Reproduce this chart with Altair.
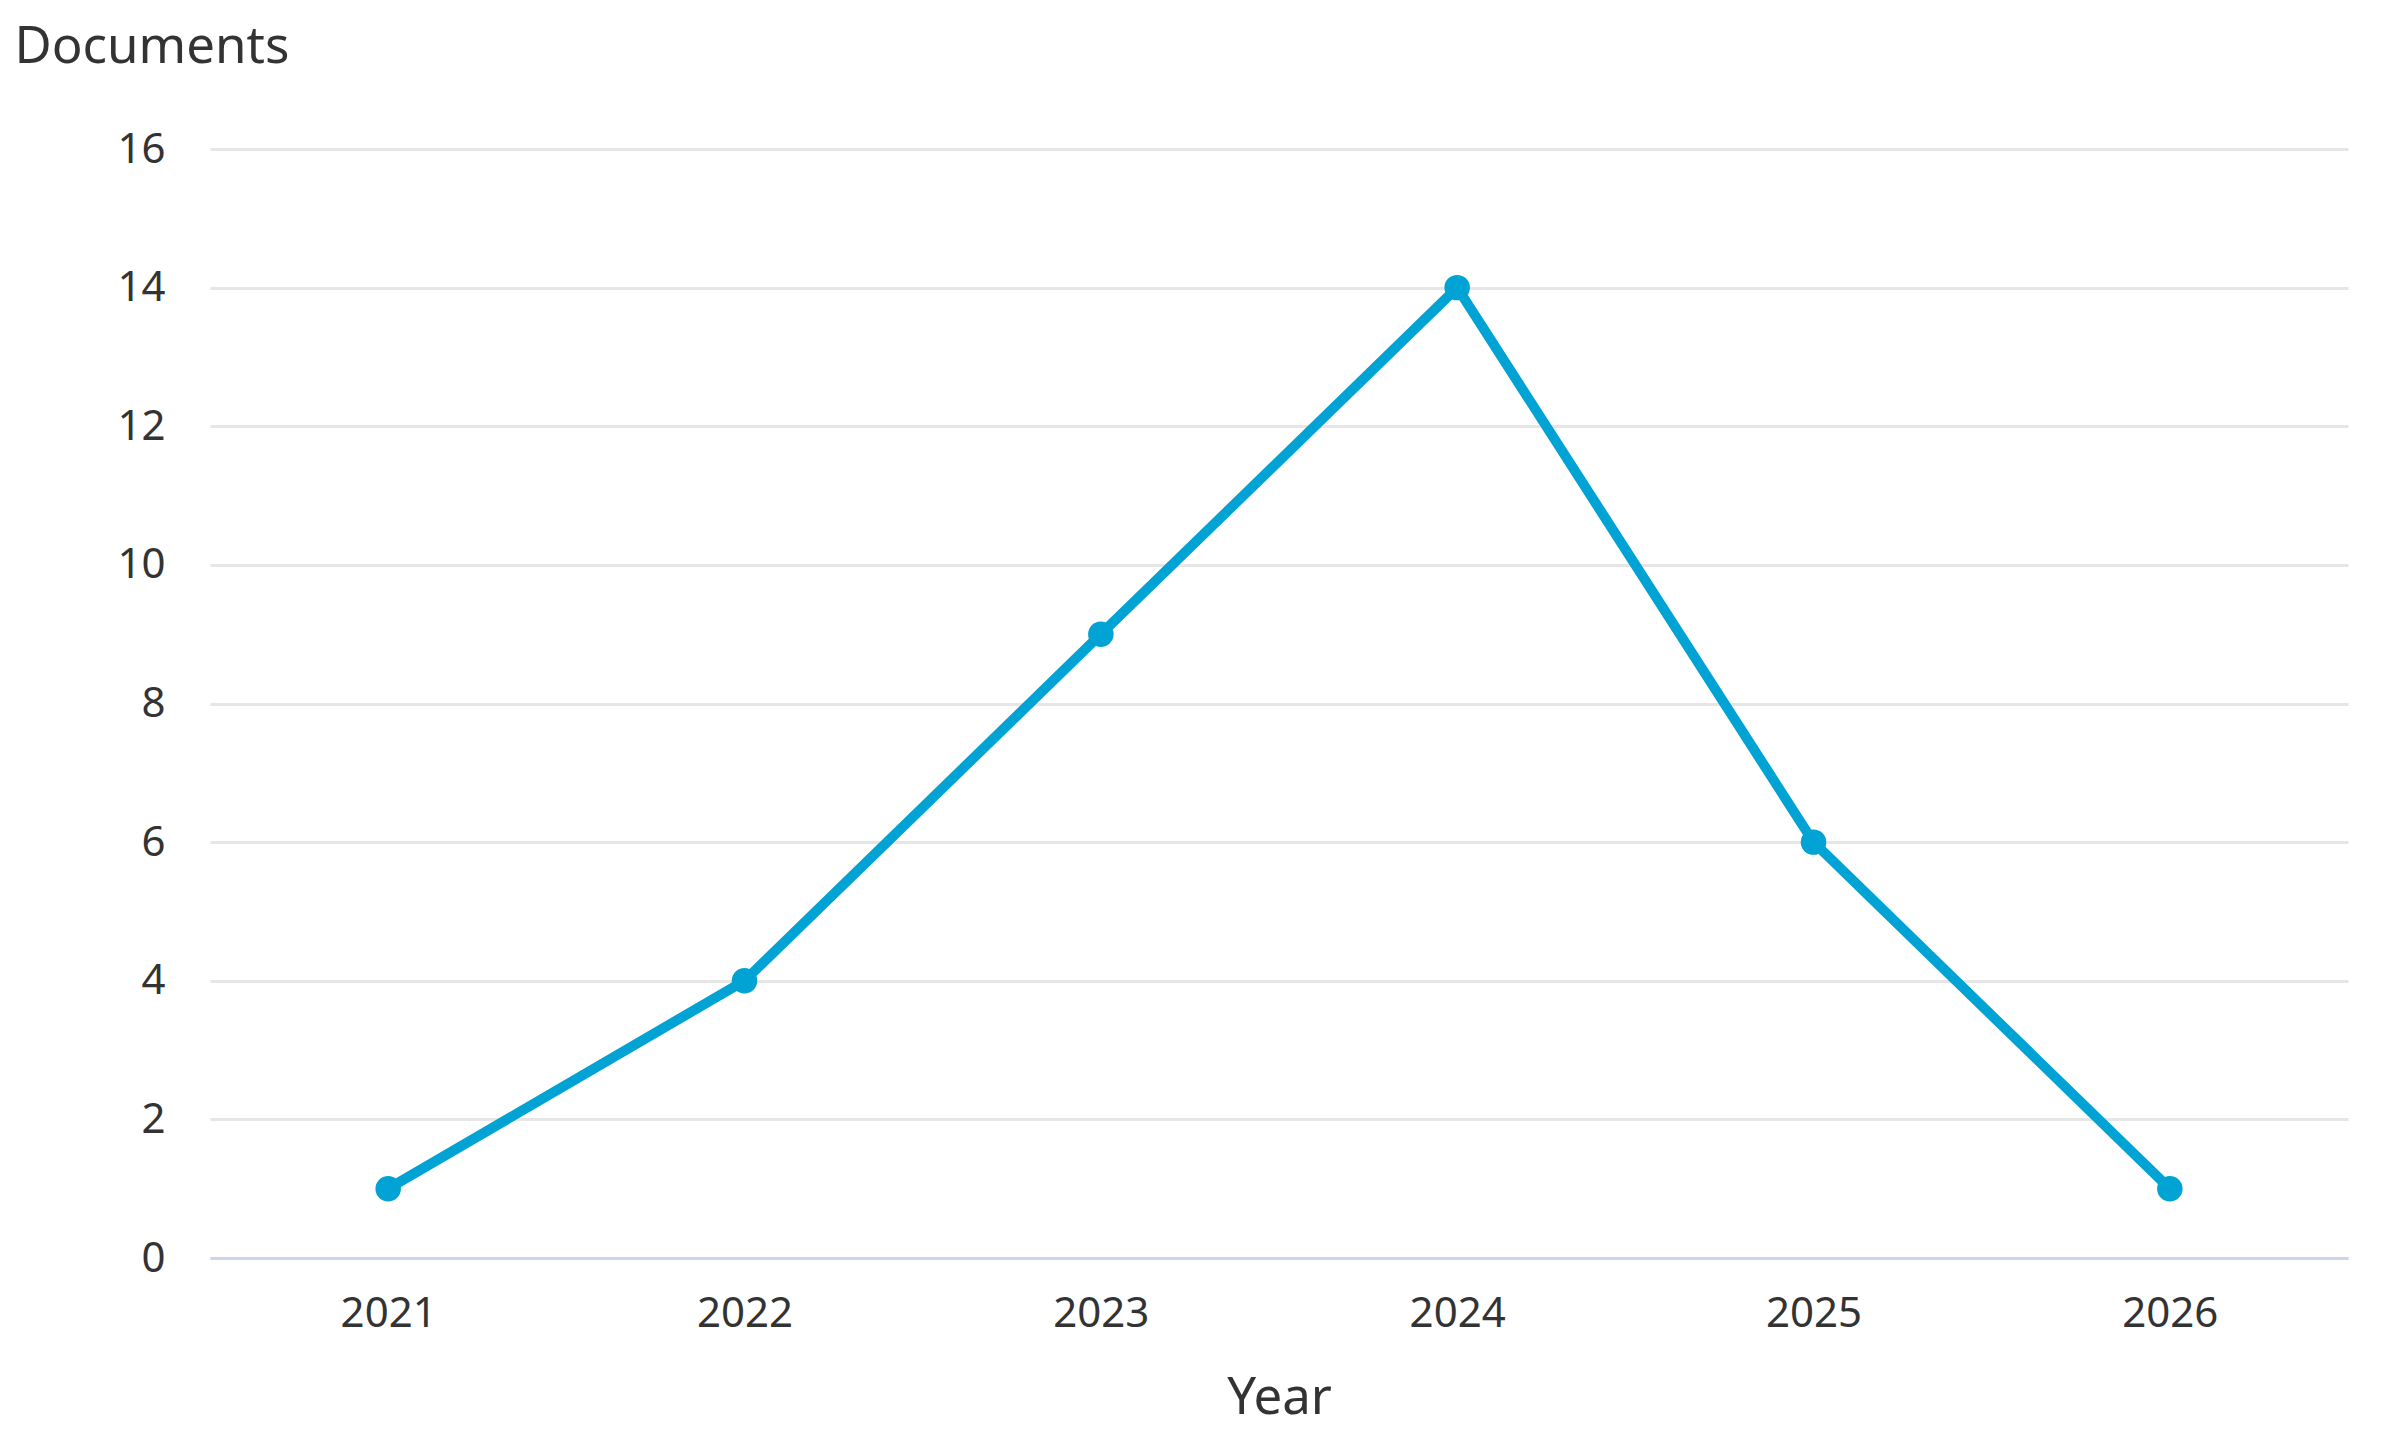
import altair as alt
import pandas as pd

years = ["2021", "2022", "2023", "2024", "2025", "2026"]
documents = [1, 4, 9, 14, 6, 1]

df = pd.DataFrame({"Year": years, "Documents": documents})

FONT = "Noto Sans"
TEXT = "#333333"
BLUE = "#00a3d3"

x = alt.X(
    "Year:O",
    scale=alt.Scale(type="point", padding=0.5),
    axis=alt.Axis(
        title="Year", labelAngle=0, labelFontSize=42, labelColor=TEXT, labelFont=FONT,
        labelPadding=35, ticks=False, domain=True, domainColor="#ccd6eb", domainWidth=3,
        titleFontSize=51, titleColor=TEXT, titleFont=FONT, titleFontWeight="normal",
        titlePadding=39, grid=False,
    ),
)
y = alt.Y(
    "Documents:Q",
    scale=alt.Scale(domain=[0, 16], nice=False),
    axis=alt.Axis(
        values=[0, 2, 4, 6, 8, 10, 12, 14, 16], title="Documents",
        labelFontSize=42, labelColor=TEXT, labelFont=FONT, labelPadding=45,
        ticks=False, domain=False, grid=True, gridColor="#e6e6e6", gridWidth=3,
        titleAngle=0, titleAlign="left", titleBaseline="alphabetic",
        titleX=-196, titleY=-87, titleFontSize=51, titleColor=TEXT, titleFont=FONT,
        titleFontWeight="normal",
    ),
)

line = alt.Chart(df).mark_line(color=BLUE, strokeWidth=10).encode(x=x, y=y)
points = alt.Chart(df).mark_circle(color=BLUE, size=650, opacity=1).encode(x=x, y=y)

chart = (line + points).properties(
    width=2138, height=1109,
    background="white",
    autosize=alt.AutoSizeParams(type="none"),
    padding={"left": 202, "top": 141, "right": 30, "bottom": 170},
).configure_view(strokeWidth=0, stroke="transparent")

chart.save("out.html", embed_options={"renderer": "svg", "actions": False})
